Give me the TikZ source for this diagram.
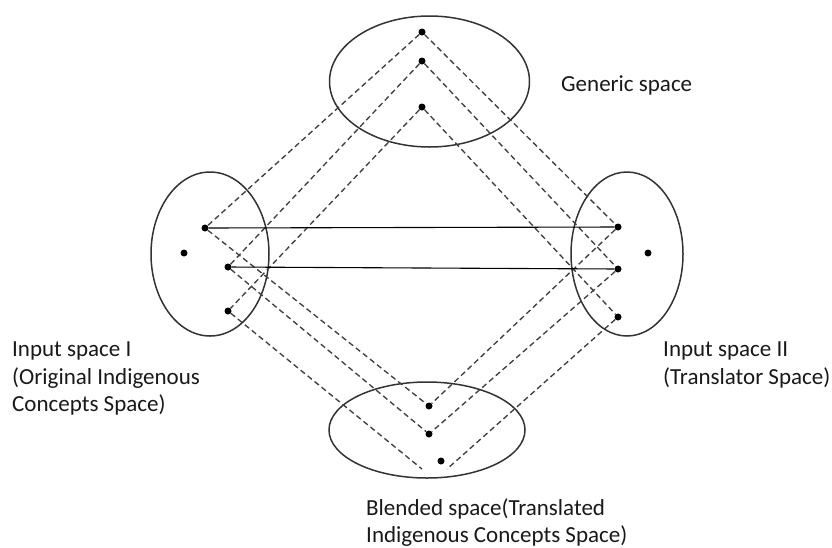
\documentclass[tikz,border=0pt]{standalone}
\usepackage{fontspec}
\setmainfont{Carlito}
\usetikzlibrary{shapes.geometric}
\begin{document}
\begin{tikzpicture}[x=1pt,y=-1pt,
  space/.style={draw=black!80,line width=1.5pt,ellipse,inner sep=0pt},
  pt/.style={circle,fill=black,inner sep=0pt,minimum size=7pt},
  map/.style={draw=black!75,line width=1.35pt,dash pattern=on 5.5pt off 3.5pt},
  link/.style={draw=black,line width=1.1pt},
  lbl/.style={font=\fontsize{23}{27.5}\selectfont,inner sep=0pt,align=left,text=black!90}]
\useasboundingbox (0,0) rectangle (832,547);

% the four spaces
\node[space,minimum width=200pt,minimum height=131pt] (gen) at (429.5,81.5) {};
\node[space,minimum width=118pt,minimum height=164pt] (inA) at (210,254) {};
\node[space,minimum width=112pt,minimum height=164pt] (inB) at (627,254) {};
\node[space,minimum width=196pt,minimum height=96pt] (bld) at (427,430) {};

% elements of the generic space
\node[pt] (g1) at (422,32) {};
\node[pt] (g2) at (422,61) {};
\node[pt] (g3) at (422,107) {};

% elements of input space I
\node[pt] (a1) at (205,228) {};
\node[pt] (a0) at (184,253) {};
\node[pt] (a2) at (228,267) {};
\node[pt] (a3) at (228,311) {};

% elements of input space II
\node[pt] (b1) at (618,227) {};
\node[pt] (b0) at (648,253) {};
\node[pt] (b2) at (618,269) {};
\node[pt] (b3) at (618,317) {};

% elements of the blended space
\node[pt] (c1) at (429,406) {};
\node[pt] (c2) at (429,434) {};
\node[pt] (c3) at (441,461) {};
\coordinate (c3l) at (422,469);
\coordinate (c3r) at (447,469);

% generic space to the inputs
\draw[map] (g1) -- (a1);
\draw[map] (g1) -- (b1);
\draw[map] (g2) -- (a2);
\draw[map] (g2) -- (b2);
\draw[map] (g3) -- (a3);
\draw[map] (g3) -- (b3);

% inputs to the blended space
\draw[map] (a1) -- (c1);
\draw[map] (b1) -- (c1);
\draw[map] (a2) -- (c2);
\draw[map] (b2) -- (c2);
\draw[map] (a3) -- (c3l);
\draw[map] (b3) -- (c3r);

% cross-space links
\draw[link] (a1) -- (b1);
\draw[link] (a2) -- (b2);

% labels
\node[lbl,anchor=base west] (tg) at (561,91) {Generic space};
\node[lbl,anchor=north west] (ta) at (12,342) {Input space I\\(Original Indigenous\\Concepts Space)};
\node[lbl,anchor=north west] (tb) at (663,342) {Input space II\\(Translator Space)};
\node[lbl,anchor=north west] (tc) at (366,498) {Blended space(Translated\\Indigenous Concepts Space)};
\end{tikzpicture}
\end{document}
